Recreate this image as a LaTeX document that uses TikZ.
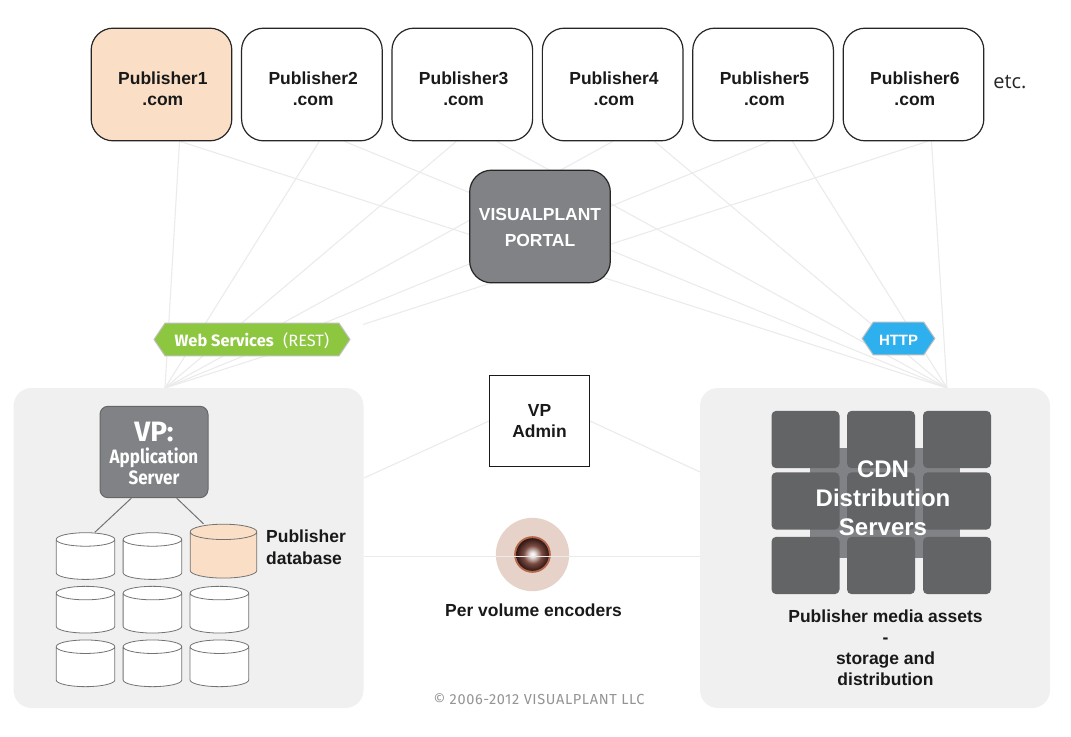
\documentclass[tikz,border=0pt]{standalone}
\usepackage{fontspec}
\setmainfont{Liberation Sans}
\newfontfamily\dinfont{Fira Sans}
\newfontfamily\spacedfont[LetterSpace=4.3]{Fira Sans}
\newfontfamily\narrowfont[FakeStretch=0.88]{Fira Sans}
\newfontfamily\etcfont{Open Sans}
\usetikzlibrary{arrows.meta,backgrounds,calc,positioning,shapes.geometric,shapes.symbols}

\definecolor{peach}{HTML}{FADFC6}
\definecolor{midgrey}{HTML}{808285}
\definecolor{darkgrey}{HTML}{636466}
\definecolor{panelgrey}{HTML}{F0F0F0}
\definecolor{linkgrey}{HTML}{EBEBEB}
\definecolor{restgreen}{HTML}{8DC63F}
\definecolor{httpblue}{HTML}{2FB0EE}
\definecolor{lensouter}{HTML}{E6D2C8}
\definecolor{lensring}{HTML}{B5674C}
\definecolor{lensdark}{HTML}{2A1210}
\definecolor{lensmid}{HTML}{7A4A40}
\pgfdeclareradialshading{lensglass}{\pgfpointorigin}{
  color(0bp)=(white); color(4bp)=(white!85!lensmid); color(14bp)=(lensmid);
  color(26bp)=(lensdark); color(50bp)=(lensdark)}
\pgfdeclareradialshading{lensbody}{\pgfpointorigin}{
  color(0bp)=(lensouter); color(30bp)=(lensouter); color(38bp)=(lensouter!70!white);
  color(50bp)=(lensouter)}
\newcommand{\pubtext}[1]{\rule{0pt}{15.5pt}\hspace*{2pt}#1\\\hspace*{2pt}.com}

\begin{document}
\begin{tikzpicture}[
  x=0.75pt, y=-0.75pt,
  font=\fontsize{13.1pt}{15.75pt}\selectfont\bfseries,
  node distance=4.6pt and 5.6pt,
  publisher/.style={draw=black!85, fill=white, text=black!90, line width=0.9pt, rounded corners=16.5pt, align=center, minimum width=105.5pt, minimum height=84.5pt, inner sep=0pt},
  portal/.style={publisher, fill=midgrey, text=white, font=\fontsize{13.1pt}{19.5pt}\selectfont\bfseries},
  adminbox/.style={draw=black!90, fill=white, text=black!90, line width=0.75pt, align=center, minimum width=75pt, minimum height=68.5pt, inner sep=0pt},
  panel/.style={fill=panelgrey, rounded corners=13.5pt, minimum width=262.5pt, minimum height=240pt, inner sep=0pt},
  server/.style={draw=black!60, fill=midgrey, line width=0.75pt, rounded corners=6pt, align=center, text=white, minimum width=81pt, minimum height=68.5pt, inner sep=0pt, font=\fontsize{14.5pt}{15.75pt}\narrowfont\bfseries},
  cdn/.style={fill=darkgrey, rounded corners=3.5pt, minimum width=51pt, minimum height=43pt, inner sep=0pt},
  db/.style={cylinder, shape border rotate=90, shape aspect=0.23, draw=black!55, line width=0.6pt, fill=white, inner xsep=22pt, inner ysep=12.3pt},
  pubdb/.style={db, fill=peach, inner xsep=25pt, inner ysep=14.3pt},
  tag/.style={signal, signal to=west and east, signal pointer angle=112, draw=black!25, line width=0.75pt, text=white, inner sep=0pt, minimum height=24.5pt, text height=11pt, text depth=0pt},
  link/.style={draw=linkgrey, line width=0.8pt},
  treeline/.style={draw=black!55, line width=0.75pt},
  caption/.style={align=center, text=black!90}
]
  \useasboundingbox (0,0) rectangle (1071,736);

  % publishers
  \node[publisher, fill=peach] (pub1) at (161.5,84.5) {\pubtext{Publisher1}};
  \node[publisher, right=6.4pt of pub1] (pub2) {\pubtext{Publisher2}};
  \node[publisher, right=6.4pt of pub2] (pub3) {\pubtext{Publisher3}};
  \node[publisher, right=6.4pt of pub3] (pub4) {\pubtext{Publisher4}};
  \node[publisher, right=6.4pt of pub4] (pub5) {\pubtext{Publisher5}};
  \node[publisher, right=6.4pt of pub5] (pub6) {\pubtext{Publisher6}};
  \node[font=\fontsize{15pt}{18pt}\etcfont, text=black!85] (etc) at (1010,82) {etc.};

  \node[portal] (vportal) at (540,226.5) {\rule{0pt}{11pt}VISUALPLANT\\PORTAL};
  \node[adminbox] (admin) at (539.5,421) {VP\\Admin};

  \node[panel] (panelL) at (188.5,548) {};
  \node[panel] (panelR) at (875,548) {};
  \coordinate (fanL) at (165,388);
  \coordinate (fanR) at (947,388);
  \coordinate (gapEnd) at (363,324.5);
  \coordinate (gapStart) at (284,350);
  \coordinate (adminL) at (364,478);
  \coordinate (adminR) at (700,472);
  \coordinate (encL) at (364,556.5);
  \coordinate (encR) at (700,556.5);

  \begin{scope}[on background layer]
    \fill[white] (0,0) rectangle (1071,736);
    \foreach \i/\a/\b in {1/13.5/14, 2/5.5/24.5, 3/-4.5/26, 4/0/31.5, 5/5/22, 6/10.5/13.5}
      \draw[link] ([xshift=\b pt]pub\i.south) -- (fanR);
    \foreach \i/\a/\b in {1/13.5/14, 2/5.5/24.5, 3/-4.5/26, 4/0/31.5, 5/5/22}
      \draw[link] ([xshift=\a pt]pub\i.south) -- (fanL);
    \draw[link] ([xshift=10.5pt]pub6.south) -- (gapEnd);
    \draw[link] (gapStart) -- (fanL);
    \draw[link] (admin.west) -- (adminL);
    \draw[link] (admin.east) -- (adminR);
  \end{scope}

  \node[tag, fill=restgreen, minimum width=147pt] (rest) at (252,339.5) {\fontsize{12.3pt}{13pt}\dinfont\bfseries Web Services\hspace{7pt}{\mdseries (REST)}};
  \node[tag, fill=httpblue, minimum width=54.5pt] (http) at (898.5,338.5) {\fontsize{11.2pt}{13pt}\selectfont HTTP};

  % application server and databases
  \node[server] (appserver) at (154,452) {\rule{0pt}{17pt}\fontsize{21pt}{24pt}\dinfont\bfseries VP:\\[1pt]Application\\Server};
  \node[db] (db11) at (85.5,563) {};
  \node[db, right=of db11] (db12) {};
  \node[pubdb] (db13) at (223.5,559) {};
  \node[db, below=of db11] (db21) {};
  \node[db, right=of db21] (db22) {};
  \node[db, right=of db22] (db23) {};
  \node[db, below=of db21] (db31) {};
  \node[db, right=of db31] (db32) {};
  \node[db, right=of db32] (db33) {};
  \draw[treeline] ([xshift=-17pt]appserver.south) -- ([xshift=7pt]db11.north);
  \draw[treeline] ([xshift=17pt]appserver.south) -- ([xshift=-15pt]db13.north);
  \node[caption, align=left, anchor=west, font=\fontsize{13.1pt}{16.2pt}\selectfont\bfseries] (dblabel) at (261.5,547) {Publisher\\database};

  % encoder
  \node[circle, shading=lensbody, minimum size=55pt, inner sep=0pt] (encoder) at (532.5,554.5) {};
  \node[circle, fill=lensring, minimum size=27.5pt, inner sep=0pt] (lensrim) at (532.5,554.5) {};
  \node[circle, shading=lensglass, minimum size=24.5pt, inner sep=0pt] (lenscore) at (532.5,554.5) {};
  \draw[link] (encL) -- (encR);
  \node[caption] (enclabel) at (533.5,610) {Per volume encoders};

  % CDN servers
  \node[fill=midgrey, minimum width=112.5pt, minimum height=82.5pt, inner sep=0pt] (cdnback) at (885,503) {};
  \node[cdn] (cdn11) at (805.5,439.5) {};
  \node[cdn] (cdn12) at (881,439.5) {};
  \node[cdn] (cdn13) at (957,439.5) {};
  \node[cdn] (cdn21) at (805.5,501) {};
  \node[cdn] (cdn22) at (881,501) {};
  \node[cdn] (cdn23) at (957,501) {};
  \node[cdn] (cdn31) at (805.5,565.5) {};
  \node[cdn] (cdn32) at (881,565.5) {};
  \node[cdn] (cdn33) at (957,565.5) {};
  \node[align=center, text=white, font=\fontsize{18pt}{21.75pt}\selectfont\bfseries] (cdnlabel) at (883,498) {CDN\\Distribution\\Servers};
  \node[caption] (assets) at (885.5,648) {Publisher media assets\\-\\storage and\\distribution};

  \node[text=black!42, font=\fontsize{10.9pt}{12pt}\spacedfont] (copyright) at (539,699.5) {© 2006-2012 VISUALPLANT LLC};
\end{tikzpicture}
\end{document}
